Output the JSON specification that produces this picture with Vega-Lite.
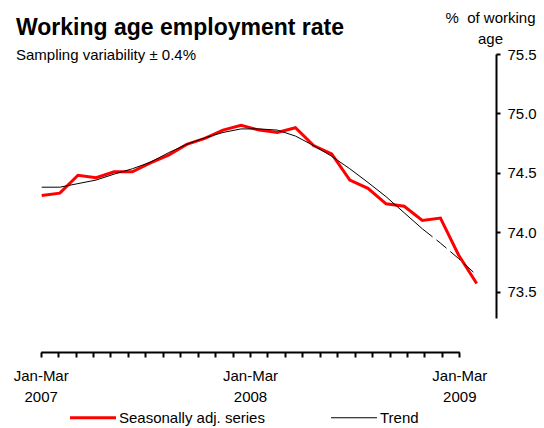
{
  "$schema": "https://vega.github.io/schema/vega-lite/v6.json",
  "width": 456,
  "height": 264,
  "autosize": "none",
  "padding": {"left": 40, "top": 54, "right": 48, "bottom": 110},
  "background": "white",
  "config": {"view": {"stroke": null}, "font": "Liberation Sans"},
  "title": {
    "text": "Working age employment rate",
    "subtitle": "Sampling variability ± 0.4%",
    "anchor": "start",
    "frame": "group",
    "fontSize": 23,
    "fontWeight": "bold",
    "color": "black",
    "subtitleFontSize": 15,
    "subtitleColor": "black",
    "subtitlePadding": 8,
    "dx": -24,
    "dy": 53,
    "offset": 0
  },
  "data": {
    "values": [
      {"i": 0, "period": "Jan-Mar 2007", "sa": 74.31, "trend": 74.38},
      {"i": 1, "period": "Feb-Apr 2007", "sa": 74.33, "trend": 74.38},
      {"i": 2, "period": "Mar-May 2007", "sa": 74.48, "trend": 74.41},
      {"i": 3, "period": "Apr-Jun 2007", "sa": 74.46, "trend": 74.44},
      {"i": 4, "period": "May-Jul 2007", "sa": 74.51, "trend": 74.49},
      {"i": 5, "period": "Jun-Aug 2007", "sa": 74.51, "trend": 74.535},
      {"i": 6, "period": "Jul-Sep 2007", "sa": 74.585, "trend": 74.59},
      {"i": 7, "period": "Aug-Oct 2007", "sa": 74.65, "trend": 74.67},
      {"i": 8, "period": "Sep-Nov 2007", "sa": 74.74, "trend": 74.74},
      {"i": 9, "period": "Oct-Dec 2007", "sa": 74.79, "trend": 74.795},
      {"i": 10, "period": "Nov-Jan 2008", "sa": 74.86, "trend": 74.84},
      {"i": 11, "period": "Dec-Feb 2008", "sa": 74.90, "trend": 74.87},
      {"i": 12, "period": "Jan-Mar 2008", "sa": 74.86, "trend": 74.87},
      {"i": 13, "period": "Feb-Apr 2008", "sa": 74.84, "trend": 74.86},
      {"i": 14, "period": "Mar-May 2008", "sa": 74.88, "trend": 74.81},
      {"i": 15, "period": "Apr-Jun 2008", "sa": 74.73, "trend": 74.73},
      {"i": 16, "period": "May-Jul 2008", "sa": 74.66, "trend": 74.64},
      {"i": 17, "period": "Jun-Aug 2008", "sa": 74.44, "trend": 74.535},
      {"i": 18, "period": "Jul-Sep 2008", "sa": 74.37, "trend": 74.42},
      {"i": 19, "period": "Aug-Oct 2008", "sa": 74.24, "trend": 74.30},
      {"i": 20, "period": "Sep-Nov 2008", "sa": 74.22, "trend": 74.165},
      {"i": 21, "period": "Oct-Dec 2008", "sa": 74.10, "trend": 74.03},
      {"i": 22, "period": "Nov-Jan 2009", "sa": 74.12, "trend": 73.91},
      {"i": 23, "period": "Dec-Feb 2009", "sa": 73.81, "trend": 73.78},
      {"i": 24, "period": "Jan-Mar 2009", "sa": 73.57, "trend": 73.64}
    ]
  },
  "layer": [
    {
      "mark": {"type": "point", "opacity": 0},
      "encoding": {
        "x": {
          "field": "period", "type": "ordinal", "sort": null,
          "scale": {"type": "point", "range": [0.7, 419.3], "padding": 0},
          "axis": {
            "orient": "bottom", "offset": 34, "title": null, "grid": false,
            "domainColor": "black", "domainWidth": 2,
            "tickColor": "black", "tickWidth": 2, "tickSize": 5,
            "labelAngle": 0, "labelFontSize": 15, "labelColor": "black",
            "labelPadding": 11, "labelLineHeight": 21,
            "labelOverlap": false, "labelBound": false, "labelFlush": false,
            "labelExpr": "indexof(datum.value, 'Jan-Mar') == 0 ? split(datum.value, ' ') : ''"
          }
        },
        "y": {
          "field": "sa", "type": "quantitative",
          "scale": {"domain": [73.28, 75.5], "nice": false, "zero": false},
          "axis": {
            "orient": "right", "grid": false,
            "values": [73.5, 74, 74.5, 75, 75.5], "format": ".1f",
            "domainColor": "black", "domainWidth": 2,
            "tickColor": "black", "tickWidth": 2, "tickSize": 4,
            "labelFontSize": 15, "labelColor": "black", "labelPadding": 7,
            "title": ["%\u00a0 of working", "age"],
            "titleAngle": 0, "titleAlign": "center", "titleBaseline": "alphabetic",
            "titleX": -6, "titleY": -32, "titleFontSize": 15, "titleFontWeight": "normal",
            "titleColor": "black", "titleLineHeight": 21
          }
        }
      }
    },
    {
      "mark": {"type": "line", "strokeWidth": 3},
      "encoding": {
        "x": {"field": "i", "type": "quantitative", "scale": {"domain": [0, 24], "range": [1.7, 436.7]}, "axis": null},
        "y": {"field": "sa", "type": "quantitative"},
        "color": {
          "datum": "Seasonally adj. series",
          "scale": {"domain": ["Seasonally adj. series", "Trend"], "range": ["#ff0000", "#000000"]},
          "legend": {
            "orient": "none", "legendX": 45.5, "legendY": 356,
            "direction": "horizontal", "title": null,
            "symbolType": "stroke", "symbolSize": 2116, "symbolStrokeWidth": 3,
            "labelFontSize": 15, "labelColor": "black", "labelOffset": 18.5,
            "columnPadding": 63,
            "encode": {"symbols": {"update": {"strokeWidth": {"signal": "datum.value === 'Trend' ? 1 : 3"}}}}
          }
        }
      }
    },
    {
      "transform": [{"filter": "datum.i <= 21"}],
      "mark": {"type": "line", "strokeWidth": 1},
      "encoding": {
        "x": {"field": "i", "type": "quantitative", "scale": {"domain": [0, 24], "range": [1.7, 436.7]}, "axis": null},
        "y": {"field": "trend", "type": "quantitative"},
        "color": {"datum": "Trend"}
      }
    },
    {
      "transform": [{"filter": "datum.i >= 21"}],
      "mark": {"type": "line", "strokeWidth": 1, "strokeDash": [13, 5]},
      "encoding": {
        "x": {"field": "i", "type": "quantitative", "scale": {"domain": [0, 24], "range": [1.7, 436.7]}, "axis": null},
        "y": {"field": "trend", "type": "quantitative"},
        "color": {"datum": "Trend"}
      }
    }
  ],
  "resolve": {"scale": {"x": "independent"}}
}
